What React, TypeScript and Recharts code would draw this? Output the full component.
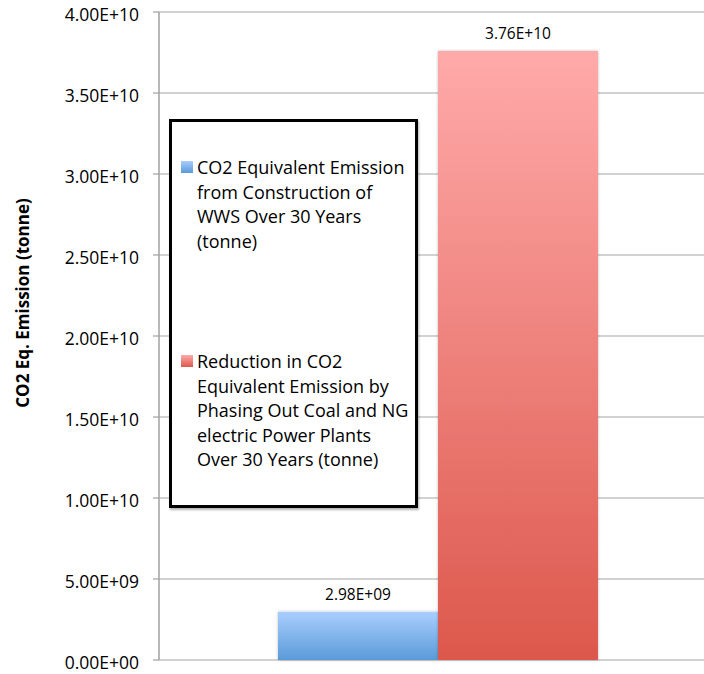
import React from 'react'
import {
  BarChart, Bar, XAxis, YAxis, CartesianGrid, Legend, LabelList,
} from 'recharts'

// values in tonnes of CO2 equivalent
const categories = ['Over 30 Years']
const wwsConstruction = [2.98e9]
const fossilReduction = [3.76e10]
const yTicks = [0, 5e9, 1e10, 1.5e10, 2e10, 2.5e10, 3e10, 3.5e10, 4e10]

const seriesNames = [
  'CO2 Equivalent Emission from Construction of WWS Over 30 Years (tonne)',
  'Reduction in CO2 Equivalent Emission by Phasing Out Coal and NG electric Power Plants Over 30 Years (tonne)',
]
const legendLines = [
  ['CO2 Equivalent Emission', 'from Construction of', 'WWS Over 30 Years', '(tonne)'],
  ['Reduction in CO2', 'Equivalent Emission by', 'Phasing Out Coal and NG', 'electric Power Plants', 'Over 30 Years (tonne)'],
]
const swatches = [
  'linear-gradient(#a9cdff, #5a9ad8)',
  'linear-gradient(#ffaaaa, #dc584c)',
]

const data = categories.map((name, i) => ({
  name,
  wws: wwsConstruction[i],
  coal: fossilReduction[i],
}))

const FONT = '"Open Sans", sans-serif'

// Excel style scientific notation: 3.76E+10, 2.98E+09
function sci(v: number) {
  const [m, e] = v.toExponential(2).split('e')
  const sign = e[0] === '-' ? '-' : '+'
  const digits = e.replace(/[+-]/, '').padStart(2, '0')
  return `${m}E${sign}${digits}`
}

function LegendBox() {
  return (
    <div
      style={{
        boxSizing: 'border-box',
        width: 249,
        height: 389,
        border: '3px solid #000',
        background: '#fff',
        boxShadow: '1px 2px 2px rgba(0,0,0,0.3)',
        padding: '33px 0 0 9px',
        fontFamily: FONT,
        fontSize: 18,
        lineHeight: '24.5px',
        color: '#000',
        textAlign: 'left',
      }}
    >
      {legendLines.map((lines, i) => (
        <div key={i} style={{ display: 'flex', marginTop: i === 0 ? 0 : 96 }} title={seriesNames[i]}>
          <span
            style={{
              width: 12,
              height: 12,
              marginTop: 6,
              marginRight: 4,
              flexShrink: 0,
              background: swatches[i],
            }}
          />
          <div>
            {lines.map((l) => (
              <div key={l} style={{ whiteSpace: 'nowrap' }}>{l}</div>
            ))}
          </div>
        </div>
      ))}
    </div>
  )
}

function AxisTitle() {
  return (
    <text
      x={22}
      y={303}
      transform="rotate(-90 22 303)"
      textAnchor="middle"
      dominantBaseline="central"
      fontFamily={FONT}
      fontSize={17}
      fontWeight="bold"
      fill="#000"
    >
      CO2 Eq. Emission (tonne)
    </text>
  )
}

// tick labels sit a few pixels below their gridline
function YTick({ x, y, payload }: any) {
  return (
    <text x={x} y={y + 3} dy="0.355em" textAnchor="end" fill="#000" fontSize={17.5} fontFamily={FONT}>
      {sci(payload.value)}
    </text>
  )
}

export default function App() {
  return (
    <div style={{ position: 'absolute', left: 0, top: 0, width: 704, height: 674, overflow: 'hidden', background: '#fff' }}>
      <BarChart
        width={720}
        height={674}
        data={data}
        barSize={160}
        barGap={0}
        margin={{ top: 12, right: 3, bottom: 14, left: 0 }}
        style={{ fontFamily: FONT, overflow: 'visible' }}
      >
        <defs>
          <linearGradient id="gBlue" x1="0" y1="0" x2="0" y2="1">
            <stop offset="0%" stopColor="#aacfff" />
            <stop offset="100%" stopColor="#5a9ad8" />
          </linearGradient>
          <linearGradient id="gRed" x1="0" y1="0" x2="0" y2="1">
            <stop offset="0%" stopColor="#ffaaaa" />
            <stop offset="100%" stopColor="#dc584c" />
          </linearGradient>
          <filter id="barShadow" x="-10%" y="-10%" width="120%" height="120%">
            <feDropShadow dx="0" dy="0" stdDeviation="1.5" floodColor="#000" floodOpacity="0.25" />
          </filter>
        </defs>
        <CartesianGrid vertical={false} stroke="#a6a6a6" strokeWidth={1.2} />
        <XAxis dataKey="name" hide />
        <YAxis
          width={159}
          domain={[0, 4e10]}
          ticks={yTicks}
          tickSize={6}
          tickMargin={14}
          interval={0}
          axisLine={{ stroke: '#a0a0a0', strokeWidth: 1.5 }}
          tickLine={{ stroke: '#a0a0a0', strokeWidth: 1.2 }}
          tick={<YTick />}
          label={{ content: () => <AxisTitle /> }}
        />
        <Legend
          layout="vertical"
          align="center"
          verticalAlign="middle"
          content={() => <LegendBox />}
          wrapperStyle={{ left: 169, top: 119, width: 249, height: 389 }}
        />
        <Bar dataKey="wws" name={seriesNames[0]} fill="url(#gBlue)" filter="url(#barShadow)" isAnimationActive={false}>
          <LabelList dataKey="wws" position="top" offset={12} formatter={(v: any) => sci(Number(v))}
            style={{ fill: '#000', fontSize: 15.5, fontFamily: FONT }} />
        </Bar>
        <Bar dataKey="coal" name={seriesNames[1]} fill="url(#gRed)" filter="url(#barShadow)" isAnimationActive={false}>
          <LabelList dataKey="coal" position="top" offset={12} formatter={(v: any) => sci(Number(v))}
            style={{ fill: '#000', fontSize: 15.5, fontFamily: FONT }} />
        </Bar>
      </BarChart>
    </div>
  )
}
